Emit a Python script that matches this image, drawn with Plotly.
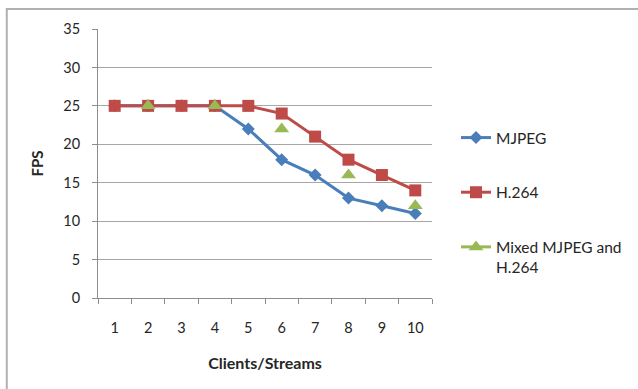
import plotly.graph_objects as go

# Frame rate versus number of concurrent clients/streams
clients = [1, 2, 3, 4, 5, 6, 7, 8, 9, 10]
mjpeg_fps = [25, 25, 25, 25, 22, 18, 16, 13, 12, 11]
h264_fps = [25, 25, 25, 25, 25, 24, 21, 18, 16, 14]
# mixed workload was only measured for even client counts
mixed_fps = [None, 25, None, 25, None, 22, None, 16, None, 12]
y_ticks = [0, 5, 10, 15, 20, 25, 30, 35]

W, H = 638, 389
L, R, T, B = 98, 433, 29, 298  # plot area in pixels

FONT = "Lato"
TXT = "#262626"

x_cat = [str(c) for c in clients]

fig = go.Figure()
fig.add_trace(go.Scatter(
    x=x_cat, y=mjpeg_fps, name="MJPEG", mode="lines+markers",
    line=dict(color="#4A7EBB", width=3),
    marker=dict(symbol="diamond", size=10, color="#4A7EBB"),
    legendgroup="a",
))
fig.add_trace(go.Scatter(
    x=x_cat, y=h264_fps, name="H.264", mode="lines+markers",
    line=dict(color="#BE4B48", width=3),
    marker=dict(symbol="square", size=12, color="#BE4B48"),
    legendgroup="b",
))
fig.add_trace(go.Scatter(
    x=x_cat, y=mixed_fps, name="Mixed MJPEG and<br>H.264", mode="lines+markers",
    connectgaps=False,
    line=dict(color="#98B954", width=3),
    marker=dict(symbol="triangle-up", size=13, color="#98B954"),
    legendgroup="c",
))

# outer chart frame
def px_x(p):
    return (p - L) / (R - L)

def px_y(p):
    return (B - p) / (B - T)

fig.add_shape(type="rect", xref="paper", yref="paper",
              x0=px_x(6.5), x1=px_x(700), y0=px_y(450), y1=px_y(9),
              line=dict(color="#B0B0B0", width=2), layer="below")

fig.update_layout(
    width=W, height=H,
    margin=dict(l=L, r=W - R, t=T, b=H - B),
    paper_bgcolor="white", plot_bgcolor="white",
    font=dict(family=FONT, size=14, color=TXT),
    showlegend=True,
    legend=dict(
        x=px_x(456), y=px_y(121), xanchor="left", yanchor="top",
        traceorder="grouped", tracegroupgap=31.5, valign="top",
        font=dict(family=FONT, size=15.5, color=TXT),
        itemwidth=30, bgcolor="rgba(0,0,0,0)",
    ),
    xaxis=dict(
        type="category", tickson="boundaries",
        range=[-0.5, 9.5],
        showline=True, linecolor="#8C8C8C", linewidth=1,
        ticks="outside", ticklen=5, tickcolor="#8C8C8C",
        showgrid=False, zeroline=False,
        tickfont=dict(family=FONT, size=14.5, color=TXT),
        ticklabelstandoff=17,
        title=dict(text="<b>Clients/Streams</b>", standoff=22,
                   font=dict(family=FONT, size=16, color=TXT)),
    ),
    yaxis=dict(
        range=[0, 35], tickvals=y_ticks,
        showline=True, linecolor="#8C8C8C", linewidth=1,
        ticks="outside", ticklen=5, tickcolor="#8C8C8C",
        showgrid=True, gridcolor="#A6A6A6", gridwidth=1,
        zeroline=False,
        tickfont=dict(family=FONT, size=14.5, color=TXT),
        ticklabelstandoff=9,
        title=dict(text="<b>FPS</b>", standoff=16,
                   font=dict(family=FONT, size=15, color=TXT)),
    ),
)

fig.write_html("out.html")
